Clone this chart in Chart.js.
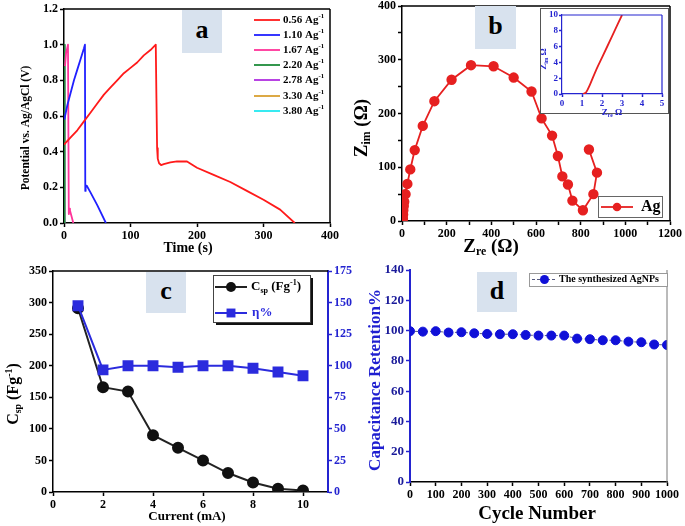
<!DOCTYPE html>
<html>
<head>
<meta charset="utf-8">
<script src="https://cdn.jsdelivr.net/npm/chart.js@4"></script>
<style>
  body { margin: 0; background: #fff; }
  #wrap { position: relative; width: 685px; height: 526px; overflow: hidden; background: #fff; }
  canvas { position: absolute; }
  .tag { position: absolute; background: #d8e2ee; font: bold 26px "Liberation Serif", serif; text-align: center; color: #000; }
  #insetBox { position: absolute; left: 540px; top: 8px; width: 127px; height: 104px; border: 1px solid #555; background: #fff; }
</style>
</head>
<body>
<div id="wrap">
  <canvas id="chartA" width="340" height="260" style="left:0;top:0"></canvas>
  <canvas id="chartB" width="345" height="260" style="left:340px;top:0"></canvas>
  <div id="insetBox"></div>
  <canvas id="chartInset" width="125" height="110" style="left:541px;top:9px"></canvas>
  <canvas id="chartC" width="365" height="266" style="left:0;top:260px"></canvas>
  <canvas id="chartD" width="345" height="266" style="left:340px;top:260px"></canvas>
  <div class="tag" style="left:182px;top:10px;width:40px;height:43px;line-height:40px">a</div>
  <div class="tag" style="left:475px;top:6px;width:41px;height:43px;line-height:40px">b</div>
  <div class="tag" style="left:146px;top:272px;width:40px;height:41px;line-height:38px">c</div>
  <div class="tag" style="left:477px;top:272px;width:40px;height:40px;line-height:37px">d</div>
</div>
<script>
// ---- panel a: charge / discharge curves ----
const gcdLabels = ['0.56', '1.10', '1.67', '2.20', '2.78', '3.30', '3.80'];
const gcdColors = ['#ff1a1a', '#2020ff', '#ff3399', '#1e8c3a', '#b02ee0', '#d9a030', '#22e8f0'];
const tRed = [0, 10, 20, 30, 40, 50, 60, 70, 80, 90, 100, 110, 120, 130, 138, 139, 140, 141, 143, 146, 150, 160, 170, 185, 200, 225, 250, 275, 300, 325, 347];
const vRed = [0.44, 0.48, 0.52, 0.57, 0.62, 0.67, 0.72, 0.76, 0.80, 0.84, 0.87, 0.90, 0.94, 0.97, 1.00, 0.70, 0.42, 0.36, 0.335, 0.325, 0.33, 0.34, 0.345, 0.345, 0.31, 0.27, 0.23, 0.18, 0.13, 0.075, 0.0];
const tBlue = [0.5, 5, 10, 15, 20, 25, 30, 31.5, 32, 32.5, 34, 40, 50, 63];
const vBlue = [0.58, 0.66, 0.73, 0.80, 0.86, 0.92, 0.98, 1.00, 0.18, 0.21, 0.21, 0.17, 0.10, 0.0];
const tPink = [1.5, 3, 6, 7.2, 7.6, 9, 14];
const vPink = [0.88, 0.95, 1.00, 0.05, 0.08, 0.07, 0.0];
const tGreen = [0, 0.6, 1.2];
const vGreen = [0.0, 1.0, 0.0];
const tPurple = [0, 0.5, 1.0];
const vPurple = [0.0, 1.0, 0.0];
const tOrange = [0, 0.4, 0.8];
const vOrange = [0.0, 1.0, 0.0];
const tCyan = [0, 0.3, 0.6];
const vCyan = [0.0, 1.0, 0.0];

// ---- panel b: Nyquist plot ----
const zRe = [3, 4, 5, 6, 8, 10, 16, 24, 37, 57, 93, 145, 222, 309, 410, 500, 580, 625, 672, 698, 718, 743, 763, 810, 857, 873, 837];
const zIm = [0, 5, 12, 20, 28, 36, 50, 69, 96, 132, 177, 223, 263, 290, 288, 267, 241, 191, 159, 121, 83, 68, 38, 20, 50, 90, 133];
const insetRe = [1.05, 1.2, 1.4, 1.7, 2.0, 2.5, 3.0];
const insetIm = [0, 0.2, 1.2, 3.0, 4.6, 7.3, 10];

// ---- panel c: specific capacitance and efficiency ----
const current = [1, 2, 3, 4, 5, 6, 7, 8, 9, 10];
const csp = [291, 166, 159, 90, 70, 50, 30, 15, 5, 2.5];
const eta = [147.5, 96.7, 100, 100, 98.8, 100, 100, 98, 95, 92];

// ---- panel d: cycling stability ----
const cycles = [0, 50, 100, 150, 200, 250, 300, 350, 400, 450, 500, 550, 600, 650, 700, 750, 800, 850, 900, 950, 1000];
const retention = [99.6, 99.3, 99.6, 98.7, 98.9, 98.2, 97.8, 97.6, 97.6, 97.1, 96.7, 96.7, 96.7, 94.7, 94.3, 93.6, 93.6, 92.7, 92.3, 90.8, 90.5];

const SERIF = '"Liberation Serif", "Times New Roman", serif';
const BLUE_AX = '#2424d0';

function pts(xs, ys) {
  return xs.map((x, i) => ({ x: x, y: ys[i] }));
}

// text with sub/superscripts, drawn centred (or left aligned) at x,y
function drawRich(ctx, it) {
  ctx.save();
  ctx.translate(it.x, it.y);
  if (it.rot) ctx.rotate(it.rot);
  ctx.fillStyle = it.color || '#000';
  ctx.textBaseline = 'middle';
  ctx.textAlign = 'left';
  let total = 0;
  const segs = it.parts.map(p => {
    const small = p.sub || p.sup;
    const font = 'bold ' + (small ? it.size * 0.62 : it.size) + 'px ' + SERIF;
    ctx.font = font;
    const w = ctx.measureText(p.t).width;
    total += w;
    return { p: p, font: font, w: w };
  });
  let x = it.align === 'left' ? 0 : -total / 2;
  segs.forEach(s => {
    ctx.font = s.font;
    ctx.fillStyle = s.p.color || it.color || '#000';
    const dy = s.p.sub ? it.size * 0.28 : (s.p.sup ? -it.size * 0.3 : 0);
    ctx.fillText(s.p.t, x, dy);
    x += s.w;
  });
  ctx.restore();
}

const richText = {
  id: 'richText',
  afterDraw(chart, args, o) {
    (o.items || []).forEach(it => drawRich(chart.ctx, it));
  }
};

const frame = {
  id: 'frame',
  afterDatasetsDraw(chart, args, o) {
    const a = chart.chartArea;
    const ctx = chart.ctx;
    ctx.save();
    ctx.strokeStyle = o.color || '#000';
    ctx.lineWidth = o.width || 1.5;
    ctx.beginPath();
    if (o.top) { ctx.moveTo(a.left, a.top); ctx.lineTo(a.right, a.top); }
    if (o.right) { ctx.moveTo(a.right, a.top); ctx.lineTo(a.right, a.bottom); }
    ctx.stroke();
    ctx.restore();
  }
};

function drawMarker(ctx, style, r, x, y) {
  ctx.beginPath();
  if (style === 'rect') {
    const s = r * Math.SQRT1_2;
    ctx.rect(x - s, y - s, 2 * s, 2 * s);
  } else {
    ctx.arc(x, y, r, 0, Math.PI * 2);
  }
  ctx.fill();
}

// hand placed legend, reads colours and styles from the datasets
const legendBox = {
  id: 'legendBox',
  afterDraw(chart, args, o) {
    const ctx = chart.ctx;
    ctx.save();
    if (o.box) {
      const b = o.box;
      if (b.shadow) { ctx.fillStyle = '#111'; ctx.fillRect(b.x + 3, b.y + 3, b.w, b.h); }
      ctx.fillStyle = '#fff';
      ctx.fillRect(b.x, b.y, b.w, b.h);
      ctx.strokeStyle = b.color || '#666';
      ctx.lineWidth = 1;
      ctx.strokeRect(b.x + 0.5, b.y + 0.5, b.w, b.h);
    }
    o.items.forEach(it => {
      const ds = chart.data.datasets[it.ds];
      ctx.strokeStyle = ds.borderColor;
      ctx.lineWidth = ds.borderWidth;
      ctx.setLineDash(ds.borderDash || []);
      ctx.beginPath();
      ctx.moveTo(it.x1, it.y);
      ctx.lineTo(it.x2, it.y);
      ctx.stroke();
      ctx.setLineDash([]);
      if (ds.pointRadius > 0) {
        ctx.fillStyle = ds.pointBackgroundColor;
        drawMarker(ctx, ds.pointStyle, ds.pointRadius, (it.x1 + it.x2) / 2, it.y);
      }
      drawRich(ctx, { x: it.tx, y: it.y, size: o.size, color: it.color || '#000', parts: it.parts, align: 'left' });
    });
    ctx.restore();
  }
};

function axis(o) {
  const col = o.axisColor || '#000';
  const cfg = {
    type: 'linear',
    position: o.pos,
    min: o.min,
    max: o.max,
    ticks: {
      stepSize: o.step,
      color: o.labelColor || '#000',
      font: { family: SERIF, weight: 'bold', size: o.size || 12 },
      padding: o.pad === undefined ? 2 : o.pad,
      autoSkip: false,
      maxRotation: 0,
      callback: o.fmt || (v => v)
    },
    grid: { display: true, drawOnChartArea: false, drawTicks: true, tickLength: o.tick || 4, tickColor: col, tickWidth: 1.5 },
    border: { display: true, color: col, width: o.bw || 1.5 },
    title: { display: false },
    afterFit(s) {
      if (s.isHorizontal()) s.height = o.fit; else s.width = o.fit;
      s.paddingLeft = 0; s.paddingRight = 0; s.paddingTop = 0; s.paddingBottom = 0;
    }
  };
  if (o.keep) cfg.afterBuildTicks = s => { s.ticks = s.ticks.filter(t => o.keep(t.value)); };
  return cfg;
}

const base = {
  responsive: false,
  animation: false,
  events: []
};

// ---------- panel a ----------
const seriesA = [[tRed, vRed], [tBlue, vBlue], [tPink, vPink], [tGreen, vGreen], [tPurple, vPurple], [tOrange, vOrange], [tCyan, vCyan]];
new Chart(document.getElementById('chartA'), {
  type: 'line',
  data: {
    datasets: seriesA.map((s, i) => ({
      label: gcdLabels[i] + ' Ag-1',
      data: pts(s[0], s[1]),
      borderColor: gcdColors[i],
      borderWidth: 1.8,
      borderJoinStyle: 'round',
      pointRadius: 0,
      tension: 0
    }))
  },
  options: Object.assign({}, base, {
    layout: { padding: { top: 9, right: 10, left: 0, bottom: 0 } },
    scales: {
      x: axis({ pos: 'bottom', min: 0, max: 400, step: 100, fit: 37 }),
      y: axis({ pos: 'left', min: 0, max: 1.2, step: 0.2, fit: 64, fmt: v => v.toFixed(1) })
    },
    plugins: {
      legend: { display: false },
      tooltip: { enabled: false },
      frame: { top: true, right: true },
      legendBox: {
        size: 11,
        items: gcdLabels.map((l, i) => ({
          ds: i, x1: 254, x2: 280, y: [20, 35, 50, 65, 80, 96, 111][i], tx: 283,
          parts: [{ t: l + ' Ag' }, { t: '-1', sup: true }]
        }))
      },
      richText: {
        items: [
          { x: 26, y: 128, rot: -Math.PI / 2, size: 11.5, parts: [{ t: 'Potential vs. Ag/AgCl (V)' }] },
          { x: 188, y: 248, size: 14, parts: [{ t: 'Time (s)' }] }
        ]
      }
    }
  }),
  plugins: [frame, legendBox, richText]
});

// ---------- panel b ----------
new Chart(document.getElementById('chartB'), {
  type: 'line',
  data: {
    datasets: [{
      label: 'Ag',
      data: pts(zRe, zIm),
      borderColor: '#e62020',
      borderWidth: 1.8,
      pointRadius: 4.3,
      pointBackgroundColor: '#e62020',
      pointBorderColor: '#e62020',
      pointStyle: 'circle'
    }]
  },
  options: Object.assign({}, base, {
    layout: { padding: { top: 6, right: 15, left: 0, bottom: 0 } },
    scales: {
      x: axis({ pos: 'bottom', min: 0, max: 1200, step: 100, fit: 39, fmt: v => (v % 200 === 0 ? v : '') }),
      y: axis({ pos: 'left', min: 0, max: 400, step: 50, fit: 62, fmt: v => (v % 100 === 0 ? v : '') })
    },
    plugins: {
      legend: { display: false },
      tooltip: { enabled: false },
      frame: { top: true, right: true },
      legendBox: {
        size: 16,
        box: { x: 258, y: 196, w: 64, h: 21, color: '#666' },
        items: [{ ds: 0, x1: 261, x2: 293, y: 207, tx: 301, parts: [{ t: 'Ag' }] }]
      },
      richText: {
        items: [
          { x: 22, y: 128, rot: -Math.PI / 2, size: 19, parts: [{ t: 'Z' }, { t: 'im', sub: true }, { t: ' (Ω)' }] },
          { x: 151, y: 247, size: 19, parts: [{ t: 'Z' }, { t: 're', sub: true }, { t: ' (Ω)' }] }
        ]
      }
    }
  }),
  plugins: [frame, legendBox, richText]
});

// ---------- panel b inset ----------
new Chart(document.getElementById('chartInset'), {
  type: 'line',
  data: {
    datasets: [{
      data: pts(insetRe, insetIm),
      borderColor: '#e62020',
      borderWidth: 1.8,
      pointRadius: 0,
      tension: 0.3
    }]
  },
  options: Object.assign({}, base, {
    layout: { padding: { top: 6, right: 4, left: 0, bottom: 0 } },
    scales: {
      x: axis({ pos: 'bottom', min: 0, max: 5, step: 1, fit: 25, size: 9, tick: 3, bw: 1.2, axisColor: BLUE_AX, labelColor: BLUE_AX, pad: 1 }),
      y: axis({ pos: 'left', min: 0, max: 10, step: 2, fit: 21, size: 9, tick: 3, bw: 1.2, axisColor: BLUE_AX, labelColor: BLUE_AX, pad: 1 })
    },
    plugins: {
      legend: { display: false },
      tooltip: { enabled: false },
      frame: { top: true, right: true, color: BLUE_AX, width: 1.2 },
      richText: {
        items: [
          { x: 3, y: 50, rot: -Math.PI / 2, size: 9, color: BLUE_AX, parts: [{ t: 'Z' }, { t: 'im', sub: true }, { t: ' Ω' }] },
          { x: 71, y: 104, size: 9, color: BLUE_AX, parts: [{ t: 'Z' }, { t: 're', sub: true }, { t: ' Ω' }] }
        ]
      }
    }
  }),
  plugins: [frame, richText]
});

// ---------- panel c ----------
new Chart(document.getElementById('chartC'), {
  type: 'line',
  data: {
    datasets: [{
      label: 'η%',
      data: pts(current, eta),
      yAxisID: 'y2',
      borderColor: '#2b2bdd',
      borderWidth: 2,
      pointRadius: 6.3,
      pointStyle: 'rect',
      pointBackgroundColor: '#2b2bdd',
      pointBorderColor: '#2b2bdd'
    }, {
      label: 'Csp (Fg-1)',
      data: pts(current, csp),
      yAxisID: 'y',
      borderColor: '#222',
      borderWidth: 2,
      pointRadius: 5,
      pointStyle: 'circle',
      pointBackgroundColor: '#111',
      pointBorderColor: '#111'
    }]
  },
  options: Object.assign({}, base, {
    layout: { padding: { top: 11, right: 0, left: 0, bottom: 0 } },
    scales: {
      x: axis({ pos: 'bottom', min: 0, max: 11, step: 1, fit: 34, keep: v => v % 2 === 0 }),
      y: axis({ pos: 'left', min: 0, max: 350, step: 50, fit: 53 }),
      y2: axis({ pos: 'right', min: 0, max: 175, step: 25, fit: 37, axisColor: BLUE_AX, labelColor: BLUE_AX, bw: 2 })
    },
    plugins: {
      legend: { display: false },
      tooltip: { enabled: false },
      frame: { top: true },
      legendBox: {
        size: 13,
        box: { x: 213, y: 15, w: 97, h: 47, color: '#444', shadow: true },
        items: [
          { ds: 1, x1: 215, x2: 247, y: 27, tx: 251, parts: [{ t: 'C' }, { t: 'sp', sub: true }, { t: ' (Fg' }, { t: '-1', sup: true }, { t: ')' }] },
          { ds: 0, x1: 215, x2: 247, y: 53, tx: 252, color: '#2b2bdd', parts: [{ t: 'η%' }] }
        ]
      },
      richText: {
        items: [
          { x: 14, y: 134, rot: -Math.PI / 2, size: 16, parts: [{ t: 'C' }, { t: 'sp', sub: true }, { t: ' (Fg' }, { t: '-1', sup: true }, { t: ')' }] },
          { x: 187, y: 257, size: 13, parts: [{ t: 'Current (mA)' }] }
        ]
      }
    }
  }),
  plugins: [frame, legendBox, richText]
});

// ---------- panel d ----------
new Chart(document.getElementById('chartD'), {
  type: 'line',
  data: {
    datasets: [{
      label: 'The synthesized AgNPs',
      data: pts(cycles, retention),
      borderColor: '#555a80',
      borderWidth: 1,
      borderDash: [3, 2],
      pointRadius: 4.5,
      pointStyle: 'circle',
      pointBackgroundColor: '#1010d8',
      pointBorderColor: '#1010d8'
    }]
  },
  options: Object.assign({}, base, {
    layout: { padding: { top: 10, right: 18, left: 0, bottom: 0 } },
    scales: {
      x: axis({ pos: 'bottom', min: 0, max: 1000, step: 100, fit: 44 }),
      y: axis({ pos: 'left', min: 0, max: 140, step: 20, fit: 70, size: 13, axisColor: BLUE_AX, labelColor: '#1a1a9a', bw: 2 })
    },
    plugins: {
      legend: { display: false },
      tooltip: { enabled: false },
      frame: { right: true, color: '#777', width: 1 },
      legendBox: {
        size: 10,
        box: { x: 189, y: 13, w: 138, h: 13, color: '#999' },
        items: [{ ds: 0, x1: 192, x2: 217, y: 19.5, tx: 219, parts: [{ t: 'The synthesized AgNPs' }] }]
      },
      richText: {
        items: [
          { x: 36, y: 120, rot: -Math.PI / 2, size: 17, color: '#1f1fd0', parts: [{ t: 'Capacitance Retention%' }] },
          { x: 197, y: 254, size: 19, parts: [{ t: 'Cycle Number' }] }
        ]
      }
    }
  }),
  plugins: [frame, legendBox, richText]
});
</script>
</body>
</html>
